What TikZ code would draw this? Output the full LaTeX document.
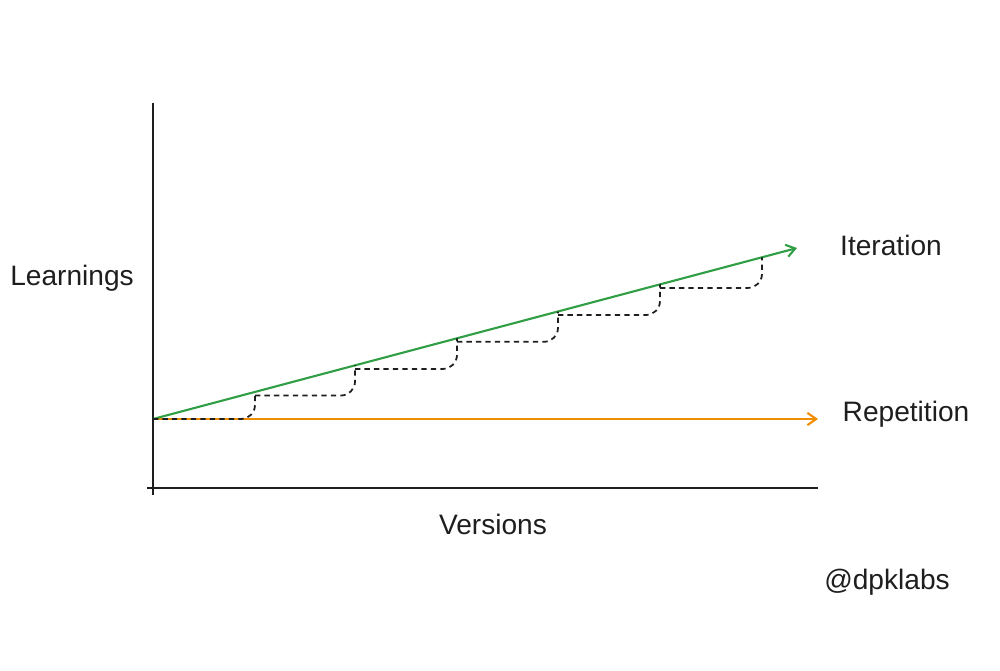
\documentclass[tikz,border=0pt]{standalone}
\usepackage{fontspec}
\setmainfont{Liberation Sans}
\usetikzlibrary{arrows.meta}
\definecolor{ink}{HTML}{1E1E1E}
\definecolor{itgreen}{HTML}{2F9E44}
\definecolor{reporange}{HTML}{F08C00}
\tikzset{
  lbl/.style={text=ink, font=\fontsize{16}{18}\selectfont, inner sep=0pt},
  axis/.style={draw=ink, line width=1pt},
  stair/.style={draw=ink, dash pattern=on 3pt off 2.4pt, line width=1pt, rounded corners=8pt},
  trend/.style={line width=1.2pt, -{Straight Barb[length=5pt, width=7pt]}}
}
\begin{document}
\begin{tikzpicture}[x=0.02cm, y=-0.02cm]
\useasboundingbox (0,0) rectangle (1000,670);
\coordinate (ytop) at (153,103);
\coordinate (ybot) at (153,495);
\coordinate (xl) at (147,488);
\coordinate (xr) at (818,488);
\coordinate (o) at (153,419);
\coordinate (gend) at (797,248);
\coordinate (rend) at (818,419);
% steps on the green line
\coordinate (g1) at (255,392);
\coordinate (g2) at (355,365.4);
\coordinate (g3) at (457,338.3);
\coordinate (g4) at (558,311.5);
\coordinate (g5) at (660,284.4);
\coordinate (g6) at (762,257.3);
\node[lbl] (learn) at (72,278) {Learnings};
\node[lbl] (vers) at (493,524) {Versions};
\node[lbl] (iter) at (891,245) {Iteration};
\node[lbl] (rep) at (906,414) {Repetition};
\node[lbl] (handle) at (887,582) {@dpklabs};
\draw[axis](ytop) -- (ybot);
\draw[axis](xl) -- (xr);
\draw[reporange, trend](o) -- (rend);
\draw[itgreen, trend](o) -- (gend);
\draw[stair](o) -| (g1);
\draw[stair]([yshift=-2]g1) -| (g2);
\draw[stair]([yshift=-2]g2) -| (g3);
\draw[stair]([yshift=-2]g3) -| (g4);
\draw[stair]([yshift=-2]g4) -| (g5);
\draw[stair]([yshift=-2]g5) -| (g6);

\end{tikzpicture}
\end{document}
